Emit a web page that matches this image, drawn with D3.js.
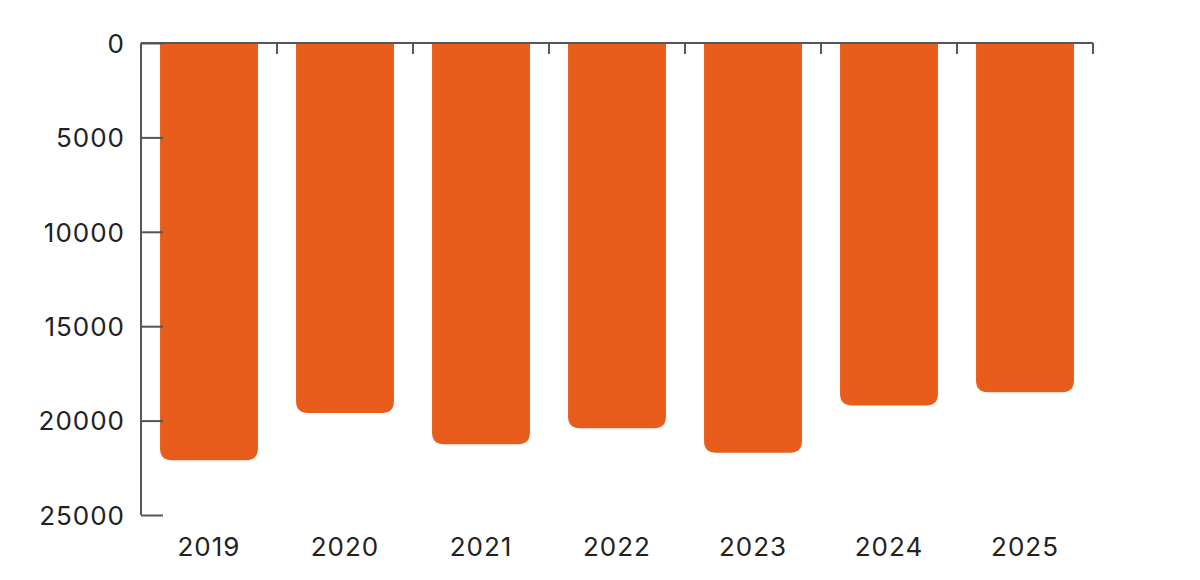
<!DOCTYPE html>
<html>
<head>
<meta charset="utf-8">
<script src="https://cdn.jsdelivr.net/npm/d3@7"></script>
<style>
  body { margin: 0; background: #fff; }
  .axis text { font-family: Inter, "Noto Sans", sans-serif; font-size: 26px; letter-spacing: 1px; fill: #222; }
  .axis path, .axis line { stroke: #555; stroke-width: 2; }
</style>
</head>
<body>
<div id="chart"></div>
<script>
// data
var years = ["2019", "2020", "2021", "2022", "2023", "2024", "2025"];
var values = [22100, 19600, 21250, 20400, 21700, 19200, 18500];
var yTicks = [0, 5000, 10000, 15000, 20000, 25000];

// set the dimensions and margins of the graph
var margin = {top: 43, right: 107, bottom: 65, left: 141},
  width = 1200 - margin.left - margin.right,
  height = 580 - margin.top - margin.bottom;

var svg = d3.select("#chart")
.append("svg")
  .attr("width", width + margin.left + margin.right)
  .attr("height", height + margin.top + margin.bottom)
.append("g")
  .attr("transform", "translate(" + margin.left + "," + margin.top + ")");

// bands touch each other, ticks sit on the band edges
var x = d3.scaleBand()
  .domain(years)
  .range([0, width])
  .padding(0);

// inverted: 0 at the top
var y = d3.scaleLinear()
  .domain([0, 25000])
  .range([0, height]);

var barW = x.bandwidth() * 0.72,
  r = 12;

// bar hanging from the top with rounded bottom corners
function barPath(d, i) {
  var x0 = x(years[i]) + (x.bandwidth() - barW) / 2,
    x1 = x0 + barW,
    y1 = y(d),
    rr = Math.min(r, y1);
  return "M" + x0 + ",0" +
    "H" + x1 +
    "V" + (y1 - rr) +
    "Q" + x1 + "," + y1 + " " + (x1 - rr) + "," + y1 +
    "H" + (x0 + rr) +
    "Q" + x0 + "," + y1 + " " + x0 + "," + (y1 - rr) +
    "Z";
}

svg.selectAll("path.bar")
  .data(values)
  .enter()
  .append("path")
    .attr("class", "bar")
    .attr("d", barPath)
    .style("fill", "#E85C1C");

// top axis: line plus ticks at band boundaries, pointing down
var topAxis = svg.append("g").attr("class", "axis");
topAxis.append("line")
  .attr("x1", 0).attr("x2", width)
  .attr("y1", 0).attr("y2", 0);
topAxis.selectAll("line.tick")
  .data(years)
  .enter()
  .append("line")
    .attr("class", "tick")
    .attr("x1", function(d) { return x(d) + x.bandwidth(); })
    .attr("x2", function(d) { return x(d) + x.bandwidth(); })
    .attr("y1", 0)
    .attr("y2", 11);

// year labels below the chart
svg.append("g")
  .attr("class", "axis")
  .selectAll("text")
  .data(years)
  .enter()
  .append("text")
    .attr("x", function(d) { return x(d) + x.bandwidth() / 2; })
    .attr("y", height + 41)
    .style("text-anchor", "middle")
    .text(function(d) { return d; });

// left axis, ticks point inward
var leftAxis = svg.append("g")
  .attr("class", "axis")
  .call(d3.axisLeft(y).tickValues(yTicks).tickFormat(d3.format("d"))
    .tickSize(-22).tickPadding(16).tickSizeOuter(0));
leftAxis.select(".domain").attr("d", "M0,0V" + height);
leftAxis.selectAll(".tick text").attr("dy", "0.36em");
</script>
</body>
</html>
